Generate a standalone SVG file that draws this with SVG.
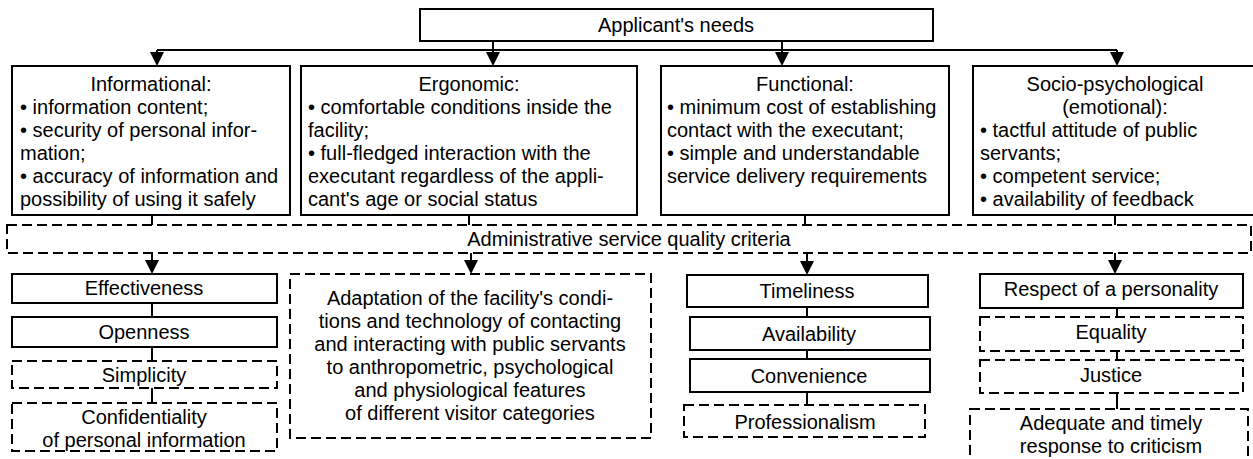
<svg xmlns="http://www.w3.org/2000/svg" width="1253" height="459" viewBox="0 0 1253 459">
<style>
text{font-family:"Liberation Sans",Arial,sans-serif;font-size:20px;fill:#000}
.c{text-anchor:middle}
.s{fill:#fff;stroke:#000;stroke-width:2}
.d{fill:#fff;stroke:#000;stroke-width:2;stroke-dasharray:10 5}
.ln{fill:none;stroke:#000;stroke-width:2}
.ah{fill:#000}
</style>
<rect width="1253" height="459" fill="#fff"/>
<g id="connectors">
<path class="ln" d="M493 41V50M782 41V50M157 50H1117M157 50V56M493 50V56M782 50V56M1117 50V56"/>
<polygon class="ah" points="150,52 164,52 157,66"/>
<polygon class="ah" points="486,52 500,52 493,66"/>
<polygon class="ah" points="775,52 789,52 782,66"/>
<polygon class="ah" points="1110,52 1124,52 1117,66"/>
<path class="ln" d="M152 215V225M469 215V225M805 215V225M1115 215V225"/>
<path class="ln" d="M152 253V262M471 253V262M807 253V262M1115 253V262"/>
<polygon class="ah" points="145,260 159,260 152,274"/>
<polygon class="ah" points="464,260 478,260 471,274"/>
<polygon class="ah" points="800,261 814,261 807,275"/>
<polygon class="ah" points="1108,260 1122,260 1115,274"/>
<path class="ln" d="M152 303V317M152 347V361M152 388V403"/>
<path class="ln" d="M807 307V317M807 350V359M807 392V405"/>
<path class="ln" d="M1117 308V317M1117 351V360M1117 393V409"/>
</g>
<g id="n-needs">
<rect class="s" x="420" y="9" width="513" height="32"/>
<text class="c" x="676" y="32">Applicant's needs</text>
</g>
<g id="n-informational">
<rect class="s" x="12" y="66" width="278" height="149"/>
<text class="c" x="151" y="91">Informational:</text>
<text x="20" y="114">• information content;</text>
<text x="20" y="137">• security of personal infor-</text>
<text x="20" y="160">mation;</text>
<text x="20" y="183">• accuracy of information and</text>
<text x="20" y="206">possibility of using it safely</text>
</g>
<g id="n-ergonomic">
<rect class="s" x="301" y="66" width="336" height="149"/>
<text class="c" x="469" y="91">Ergonomic:</text>
<text x="308" y="114">• comfortable conditions inside the</text>
<text x="308" y="137">facility;</text>
<text x="308" y="160">• full-fledged interaction with the</text>
<text x="308" y="183">executant regardless of the appli-</text>
<text x="308" y="206">cant's age or social status</text>
</g>
<g id="n-functional">
<rect class="s" x="661" y="66" width="288" height="149"/>
<text class="c" x="805" y="91">Functional:</text>
<text x="667" y="114">• minimum cost of establishing</text>
<text x="667" y="137">contact with the executant;</text>
<text x="667" y="160">• simple and understandable</text>
<text x="667" y="183">service delivery requirements</text>
</g>
<g id="n-socio">
<rect class="s" x="973" y="66" width="285" height="149"/>
<text class="c" x="1115" y="91">Socio-psychological</text>
<text class="c" x="1115" y="114">(emotional):</text>
<text x="980" y="137">• tactful attitude of public</text>
<text x="980" y="160">servants;</text>
<text x="980" y="183">• competent service;</text>
<text x="980" y="206">• availability of feedback</text>
</g>
<g id="n-criteria">
<rect class="d" x="7" y="225" width="1244" height="28"/>
<text class="c" x="629" y="246">Administrative service quality criteria</text>
</g>
<g id="n-effectiveness">
<rect class="s" x="12" y="274" width="265" height="29"/>
<text class="c" x="144" y="295">Effectiveness</text>
</g>
<g id="n-openness">
<rect class="s" x="12" y="317" width="265" height="30"/>
<text class="c" x="144" y="339">Openness</text>
</g>
<g id="n-simplicity">
<rect class="d" x="12" y="361" width="265" height="27"/>
<text class="c" x="144" y="382">Simplicity</text>
</g>
<g id="n-confidentiality">
<rect class="d" x="12" y="403" width="265" height="48"/>
<text class="c" x="144" y="424">Confidentiality</text>
<text class="c" x="144" y="447">of personal information</text>
</g>
<g id="n-adaptation">
<rect class="d" x="290" y="274" width="361" height="164"/>
<text class="c" x="470" y="305">Adaptation of the facility's condi-</text>
<text class="c" x="470" y="328">tions and technology of contacting</text>
<text class="c" x="470" y="351">and interacting with public servants</text>
<text class="c" x="470" y="374">to anthropometric, psychological</text>
<text class="c" x="470" y="397">and physiological features</text>
<text class="c" x="470" y="420">of different visitor categories</text>
</g>
<g id="n-timeliness">
<rect class="s" x="687" y="275" width="241" height="32"/>
<text class="c" x="807" y="298">Timeliness</text>
</g>
<g id="n-availability">
<rect class="s" x="690" y="317" width="240" height="33"/>
<text class="c" x="809" y="341">Availability</text>
</g>
<g id="n-convenience">
<rect class="s" x="690" y="359" width="240" height="33"/>
<text class="c" x="809" y="383">Convenience</text>
</g>
<g id="n-professionalism">
<rect class="d" x="684" y="405" width="241" height="32"/>
<text class="c" x="805" y="429">Professionalism</text>
</g>
<g id="n-respect">
<rect class="s" x="980" y="274" width="263" height="34"/>
<text class="c" x="1111" y="296">Respect of a personality</text>
</g>
<g id="n-equality">
<rect class="d" x="980" y="317" width="263" height="34"/>
<text class="c" x="1111" y="339">Equality</text>
</g>
<g id="n-justice">
<rect class="d" x="980" y="360" width="263" height="33"/>
<text class="c" x="1111" y="382">Justice</text>
</g>
<g id="n-adequate">
<rect class="d" x="970" y="409" width="278" height="60"/>
<text class="c" x="1111" y="430">Adequate and timely</text>
<text class="c" x="1111" y="453">response to criticism</text>
</g>
</svg>
